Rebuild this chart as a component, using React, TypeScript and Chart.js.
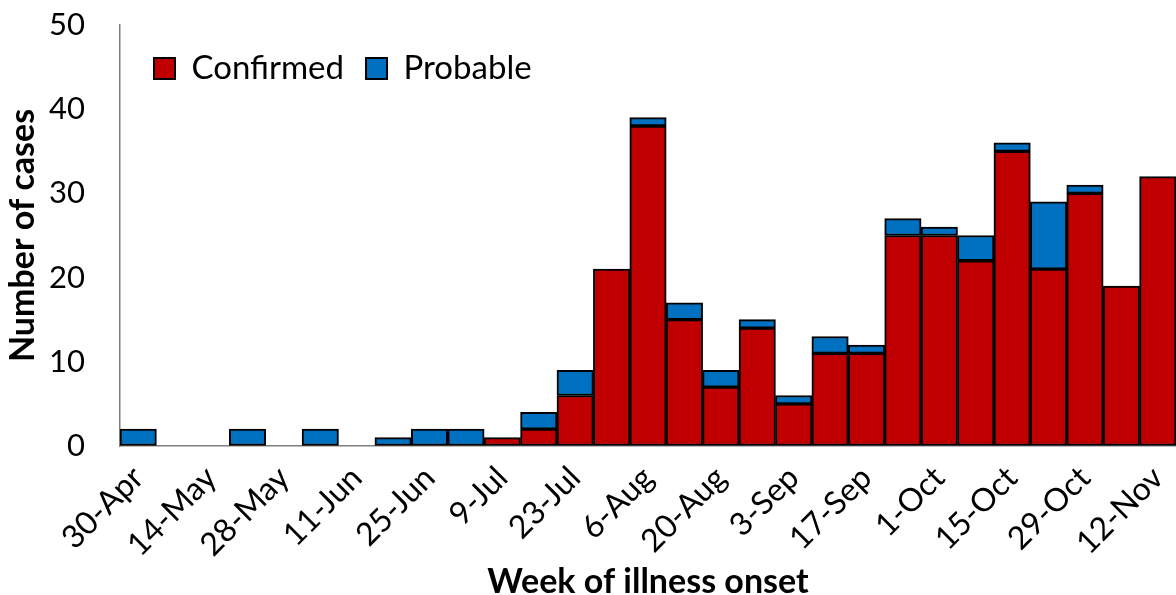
import { useEffect, useRef } from 'react';
import { Chart, registerables } from 'chart.js';

Chart.register(...registerables);

const weeks = [
  '30-Apr', '7-May', '14-May', '21-May', '28-May', '4-Jun', '11-Jun', '18-Jun', '25-Jun',
  '2-Jul', '9-Jul', '16-Jul', '23-Jul', '30-Jul', '6-Aug', '13-Aug', '20-Aug', '27-Aug',
  '3-Sep', '10-Sep', '17-Sep', '24-Sep', '1-Oct', '8-Oct', '15-Oct', '22-Oct', '29-Oct',
  '5-Nov', '12-Nov',
];
const confirmed = [0, 0, 0, 0, 0, 0, 0, 0, 0, 0, 1, 2, 6, 21, 38, 15, 7, 14, 5, 11, 11, 25, 25, 22, 35, 21, 30, 19, 32];
const probable = [2, 0, 0, 2, 0, 2, 0, 1, 2, 2, 0, 2, 3, 0, 1, 2, 2, 1, 1, 2, 1, 2, 1, 3, 1, 8, 1, 0, 0];

const FONT = 'Lato, "Liberation Sans", sans-serif';

const legendInArea = {
  id: 'legendInArea',
  beforeLayout(chart: any) {
    const lg = chart.legend;
    if (lg) lg.isHorizontal = () => true;
  },
  afterLayout(chart: any) {
    const lg = chart.legend;
    const ca = chart.chartArea;
    if (lg && ca) {
      const w = lg.width;
      lg.left = ca.left + 12;
      lg.right = lg.left + w;
      lg.top = ca.top + 5;
    }
  },
};

export default function App() {
  const ref = useRef<HTMLCanvasElement | null>(null);

  useEffect(() => {
    if (!ref.current) return;
    const chart = new Chart(ref.current, {
      type: 'bar',
      data: {
        labels: weeks,
        datasets: [
          {
            label: 'Confirmed',
            data: confirmed.map((v) => (v === 0 ? null : v)),
            backgroundColor: '#C00000',
            borderColor: '#000000',
            borderWidth: 2,
            borderSkipped: false,
            categoryPercentage: 1,
            barPercentage: 1,
          },
          {
            label: 'Probable',
            data: probable.map((v) => (v === 0 ? null : v)),
            backgroundColor: '#0070C0',
            borderColor: '#000000',
            borderWidth: 2,
            borderSkipped: false,
            categoryPercentage: 1,
            barPercentage: 1,
          },
        ],
      },
      plugins: [legendInArea],
      options: {
        animation: false,
        responsive: true,
        maintainAspectRatio: false,
        events: [],
        layout: { padding: { top: 25, right: 0, left: 0, bottom: 0 } },
        plugins: {
          tooltip: { enabled: false },
          legend: {
            position: 'chartArea' as any,
            align: 'start',
            labels: {
              boxWidth: 21,
              boxHeight: 21,
              padding: 22,
              color: '#000',
              font: { family: FONT, size: 33 },
            },
          },
        },
        scales: {
          x: {
            stacked: true,
            grid: { display: false },
            border: { display: true, color: '#7f7f7f', width: 1.5 },
            ticks: {
              autoSkip: false,
              minRotation: 45,
              maxRotation: 45,
              padding: 5,
              color: '#000',
              font: { family: FONT, size: 32 },
              callback: (_v: any, i: number) => (i % 2 === 0 ? weeks[i] : ''),
            },
            title: {
              display: true,
              text: 'Week of illness onset',
              color: '#000',
              font: { family: FONT, size: 34, weight: 'bold' },
              padding: { top: 0, bottom: -7 },
            },
            afterFit: (s: any) => {
              s.height = 149;
              s.paddingRight = 0;
              s.paddingLeft = 0;
            },
          },
          y: {
            stacked: true,
            min: 0,
            max: 50,
            grid: {
              display: true,
              drawOnChartArea: false,
              color: 'rgba(0,0,0,0)',
              tickLength: 31,
            },
            border: { display: true, color: '#7f7f7f', width: 1.5 },
            ticks: {
              stepSize: 10,
              padding: 4,
              color: '#000',
              font: { family: FONT, size: 31 },
            },
            title: {
              display: true,
              text: 'Number of cases',
              color: '#000',
              font: { family: FONT, size: 34, weight: 'bold' },
              padding: { top: 3, bottom: 0 },
            },
            afterFit: (s: any) => {
              s.width = 120;
            },
          },
        },
      },
    });
    return () => chart.destroy();
  }, []);

  return (
    <div style={{ position: 'absolute', left: 0, top: 0, width: 1176, height: 595, background: '#fff' }}>
      <canvas ref={ref} />
    </div>
  );
}
